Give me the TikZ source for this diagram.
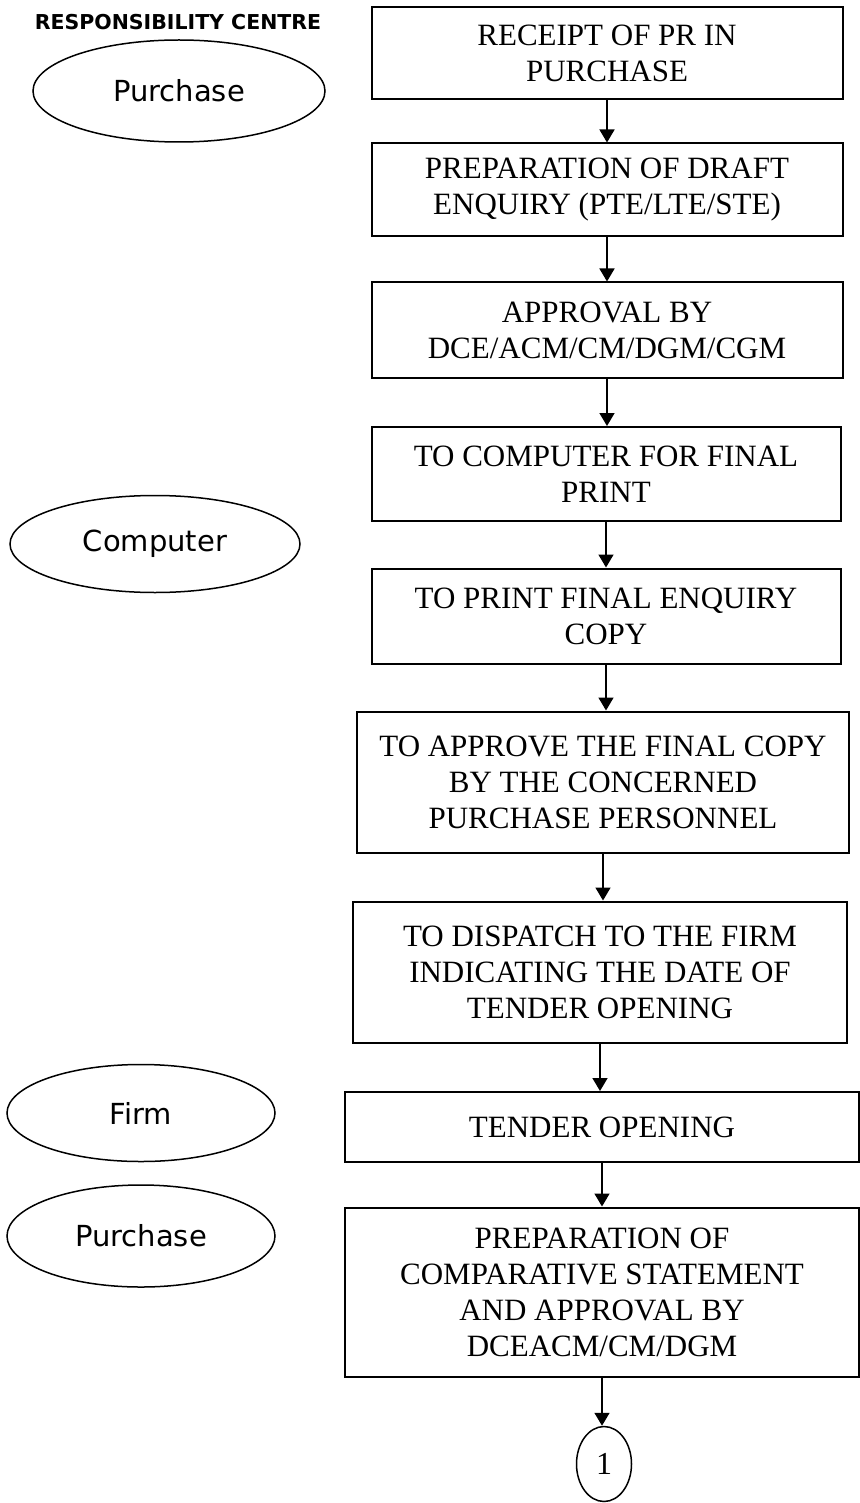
\documentclass[tikz,border=0pt]{standalone}
\usepackage{fontspec}
\setmainfont{Liberation Serif}
\newfontfamily\centrefont{DejaVu Sans}
\usetikzlibrary{arrows.meta, shapes.geometric}

\begin{document}
\begin{tikzpicture}[x=1pt, y=-1pt,
  stage/.style={rectangle, draw, line width=2pt, inner sep=0pt, align=center,
    font=\fontsize{31}{36}\selectfont},
  centre/.style={ellipse, draw, line width=1.5pt, inner sep=0pt,
    font=\centrefont\fontsize{29}{34}\selectfont},
  flow/.style={-{Triangle[width=15pt,length=13pt]}, line width=1.6pt}]
  \useasboundingbox (0,0) rectangle (859,1503);

  % Responsibility centres
  \node[font=\centrefont\bfseries\fontsize{20.5}{24}\selectfont] (head) at (178,22) {RESPONSIBILITY CENTRE};
  \node[centre, minimum width=292pt, minimum height=102pt] (purch) at (179,91) {Purchase};
  \node[centre, minimum width=290pt, minimum height=97pt] (comp) at (155,544) {Computer};
  \node[centre, minimum width=268pt, minimum height=97pt] (firm) at (141,1113) {Firm};
  \node[centre, minimum width=268pt, minimum height=102pt] (purchb) at (141,1236) {Purchase};

  % Process steps
  \node[stage, minimum width=471pt, minimum height=92pt] (b1) at (607,53) {RECEIPT OF PR IN\\PURCHASE};
  \node[stage, minimum width=471pt, minimum height=93pt] (b2) at (607,190) {PREPARATION OF DRAFT\\ENQUIRY (PTE/LTE/STE)};
  \node[stage, minimum width=471pt, minimum height=95pt] (b3) at (607,330) {APPROVAL BY\\DCE/ACM/CM/DGM/CGM};
  \node[stage, minimum width=469pt, minimum height=94pt] (b4) at (606,474) {TO COMPUTER FOR FINAL\\PRINT};
  \node[stage, minimum width=469pt, minimum height=95pt] (b5) at (606,616) {TO PRINT FINAL ENQUIRY\\COPY};
  \node[stage, minimum width=492pt, minimum height=141pt] (b6) at (603,782) {TO APPROVE THE FINAL COPY\\BY THE CONCERNED\\PURCHASE PERSONNEL};
  \node[stage, minimum width=494pt, minimum height=141pt] (b7) at (600,972) {TO DISPATCH TO THE FIRM\\INDICATING THE DATE OF\\TENDER OPENING};
  \node[stage, minimum width=514pt, minimum height=70pt] (b8) at (602,1127) {TENDER OPENING};
  \node[stage, minimum width=514pt, minimum height=169pt] (b9) at (602,1292) {PREPARATION OF\\COMPARATIVE STATEMENT\\AND APPROVAL BY\\DCEACM/CM/DGM};
  \node[ellipse, draw, line width=1.5pt, inner sep=0pt, minimum width=55pt, minimum height=75pt,
    font=\fontsize{32}{36}\selectfont] (one) at (604,1464) {1};

  % Connectors
  \foreach \a/\b in {b1/b2, b2/b3, b3/b4, b4/b5, b5/b6, b6/b7, b7/b8, b8/b9, b9/one} {
    \draw[flow] (\a.south) -- (\a.south |- \b.north);
  }
\end{tikzpicture}
\end{document}
